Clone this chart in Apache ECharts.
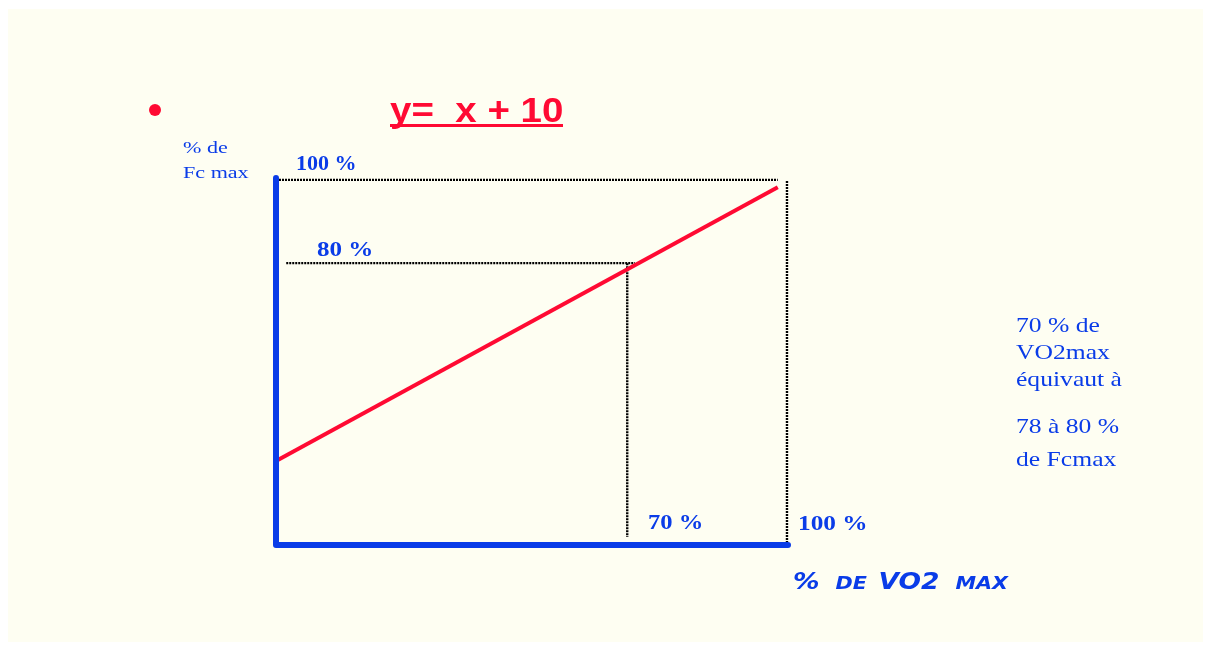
<!DOCTYPE html>
<html>
<head>
  <meta charset="UTF-8">
  <title>y = x + 10</title>
  <script src="https://cdn.jsdelivr.net/npm/echarts@6/dist/echarts.min.js"></script>
  <style>
    html, body { margin: 0; padding: 0; background: #ffffff; }
  </style>
</head>
<body>
  <div id="chart" style="width: 1206px; height: 646px"></div>
  <script>
    // points, in % (x = % de VO2max, y = % de Fc max)
    var axisPts = [[0, 100], [0, 0], [100, 0]];
    var redLine = [[0, 22.9], [98, 97.5]];
    var top100 = [[0, 99.5], [98, 99.5]];
    var right100 = [[99.8, 99.2], [99.8, 0]];
    var h80 = [[2, 76.8], [70.1, 76.8]];
    var v70 = [[68.6, 76.8], [68.6, 2.2]];

    var blue = '#0a3ce8';
    var red = '#ff0a33';
    var serif = '"Liberation Serif", "Times New Roman", serif';

    var myChart = echarts.init(document.getElementById('chart'));

    function dotted(data) {
      return {
        type: 'line',
        data: data,
        symbol: 'none',
        silent: true,
        lineStyle: { color: '#000', width: 2.4, type: [2, 1] }
      };
    }

    // petits textes du diagramme (sx = étirement horizontal, le texte d'origine est espacé)
    function txt(x, y, s, size, bold, sx) {
      return {
        type: 'text',
        x: x,
        y: y,
        scaleX: sx || 1,
        style: {
          text: s,
          fill: blue,
          font: (bold ? 'bold ' : '') + size + 'px ' + serif,
          verticalAlign: 'middle'
        }
      };
    }

    var option = {
      backgroundColor: '#ffffff',
      animation: false,
      grid: { left: 276, right: 418, top: 178, bottom: 101 },
      xAxis: {
        type: 'value', min: 0, max: 100,
        axisLine: { show: false }, axisTick: { show: false },
        axisLabel: { show: false }, splitLine: { show: false }
      },
      yAxis: {
        type: 'value', min: 0, max: 100,
        axisLine: { show: false }, axisTick: { show: false },
        axisLabel: { show: false }, splitLine: { show: false }
      },
      graphic: [
        {
          type: 'rect', z: -10, silent: true,
          shape: { x: 8, y: 9, width: 1195, height: 633 },
          style: { fill: '#fefef2' }
        },
        { type: 'circle', shape: { cx: 155, cy: 110, r: 6 }, style: { fill: red } },
        {
          type: 'text', x: 390, y: 112, scaleX: 1.1,
          style: {
            text: 'y=  x + 10', fill: red,
            font: 'bold 35px "Liberation Sans", Arial, sans-serif',
            verticalAlign: 'middle'
          }
        },
        { type: 'rect', shape: { x: 390, y: 124, width: 173, height: 3 }, style: { fill: red } },
        txt(183, 149, '% de', 17, false, 1.3),
        txt(183, 174, 'Fc max', 17, false, 1.3),
        txt(296, 165, '100 %', 21, true, 1.05),
        txt(317, 250, '80 %', 22, true, 1.14),
        txt(648, 524, '70 %', 21, true, 1.17),
        txt(798, 524, '100 %', 22, true, 1.15),
        txt(1016, 326, '70 % de', 21, false, 1.22),
        txt(1016, 353, 'VO2max', 21, false, 1.22),
        txt(1016, 380, 'équivaut à', 21, false, 1.22),
        txt(1016, 427, '78 à 80 %', 21, false, 1.22),
        txt(1016, 460, 'de Fcmax', 21, false, 1.22),
        {
          type: 'text', x: 793, y: 583, scaleX: 1.15,
          style: {
            text: '{b|%}{s|DE}{b|VO2}{s|MAX}',
            verticalAlign: 'middle',
            rich: {
              b: { fill: blue, font: 'italic bold 23px "DejaVu Sans", sans-serif', padding: [0, 10, 0, 0] },
              s: { fill: blue, font: 'italic bold 18px "DejaVu Sans", sans-serif', padding: [3, 10, 0, 4] }
            }
          }
        }
      ],
      series: [
        dotted(top100),
        dotted(right100),
        dotted(h80),
        dotted(v70),
        {
          type: 'line',
          data: redLine,
          symbol: 'none',
          silent: true,
          lineStyle: { color: red, width: 4 }
        },
        {
          type: 'line',
          data: axisPts,
          symbol: 'none',
          silent: true,
          z: 5,
          lineStyle: { color: blue, width: 6, cap: 'round', join: 'round' }
        }
      ]
    };
    myChart.setOption(option);
  </script>
</body>
</html>
